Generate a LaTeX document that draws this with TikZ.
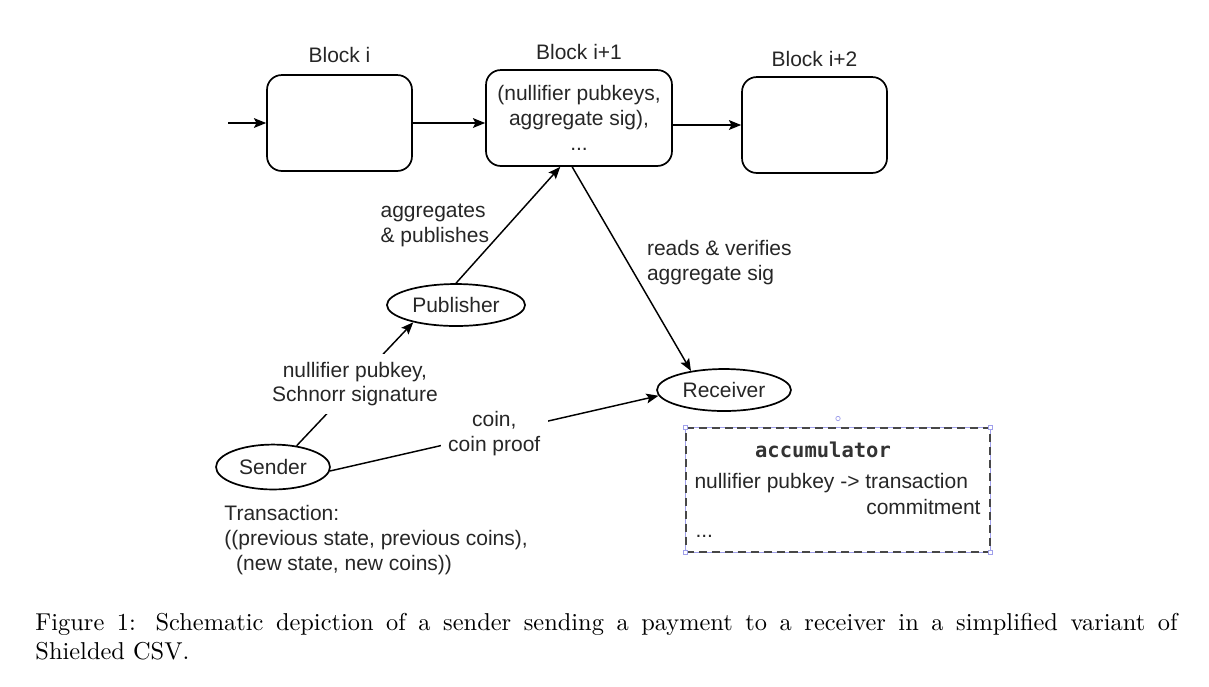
\documentclass[tikz,border=0pt]{standalone}
\usepackage{fontspec}
\usepackage{xcolor}
\usepackage{tikz}
\usetikzlibrary{arrows.meta,shapes.geometric,positioning}
\newfontfamily\diagfont{Liberation Sans}
\newfontfamily\accfont{DejaVu Sans Mono}
\newcommand{\dfont}{\diagfont\fontsize{8.6pt}{10.2pt}\selectfont}

\begin{document}
\begin{tikzpicture}[x=0.4098pt, y=-0.4098pt,
  blockbox/.style={draw, rounded corners=6pt, line width=0.7pt, minimum height=39.3pt,
    inner sep=0pt, font=\dfont, text=black!85, align=center},
  actor/.style={draw, ellipse, line width=0.7pt, inner sep=0pt, font=\dfont, text=black!85},
  flow/.style={-{Stealth[length=5pt, width=4pt, inset=1pt]}, line width=0.6pt},
  txt/.style={font=\dfont, text=black!85, inner sep=0pt, align=left},
  edgelbl/.style={txt, fill=white, align=center, inner sep=3pt},
  accbox/.style={draw=black!72, dash pattern=on 3.3pt off 2pt, line width=1pt,
    minimum width=124.6pt, minimum height=50.8pt, inner sep=0pt},
  handle/.style={draw=selcolor, fill=white, line width=0.3pt, minimum size=1.6pt, inner sep=0pt}]

  % Colours
  \definecolor{selcolor}{RGB}{160,160,235}   % selection outline left in the drawing

  \useasboundingbox (0,0) rectangle (1209,686);

  % The chain of blocks
  \node[blockbox, minimum width=59.4pt] (blk1) at (339.5,123) {};
  \node[blockbox, minimum width=76.2pt] (blk2) at (579,118)
    {(nullifier pubkeys,\\aggregate sig),\\...};
  \node[blockbox, minimum width=59.4pt] (blk3) at (814.5,125) {};

  \node[txt, above=4.5pt of blk1] (blk1lbl) {Block i};
  \node[txt, above=3.7pt of blk2] (blk2lbl) {Block i+1};
  \node[txt, above=3.7pt of blk3] (blk3lbl) {Block i+2};

  \coordinate (entry) at (228,123);
  \draw[flow] (entry) -- (blk1.west);
  \draw[flow] (blk1.east) -- (blk1.east -| blk2.west);
  \draw[flow] (blk2.east |- blk3.west) -- (blk3.west);

  % Parties
  \node[actor, minimum width=56.6pt, minimum height=17.2pt] (pub) at (456,305) {Publisher};
  \node[actor, minimum width=54.9pt, minimum height=17.2pt] (rcv) at (724,390) {Receiver};
  \node[actor, minimum width=46.7pt, minimum height=18.4pt] (sender) at (273,467) {Sender};

  % Messages
  \draw[flow] (pub.north) -- node[txt, midway, left=7.5pt] (publbl) {aggregates\\\& publishes} (blk2.249);
  \draw[flow] (blk2.262) -- node[txt, pos=0.47, right=7.5pt] (readlbl) {reads \& verifies\\aggregate sig} (rcv.150);
  \draw[flow] (sender.42) -- node[edgelbl] (siglbl) {nullifier pubkey,\\Schnorr signature} (pub.202);
  \draw[flow] (sender.-4) -- node[edgelbl] (coinlbl) {coin,\\coin proof} (rcv.185);

  % Transaction of the sender
  \node[txt, anchor=west] (txn) at (224,540)
    {Transaction:\\((previous state, previous coins),\\\hspace*{4.8pt}(new state, new coins))};

  % Accumulator of the receiver
  \node[minimum width=124.6pt, minimum height=50.8pt, inner sep=0pt] (acc) at (838,490) {};
  \draw[selcolor, line width=0.3pt] (acc.south west) rectangle (acc.north east);
  \node[accbox] (accframe) at (acc) {};
  \foreach \c in {north west, north east, south west, south east}
    \node[handle] at (acc.\c) {};
  \node[draw=selcolor, circle, line width=0.3pt, minimum size=1.8pt, inner sep=0pt] (rot)
    at ([yshift=3.7pt]acc.north) {};

  \node[txt, text=black!80, font=\accfont\bfseries\fontsize{8.4pt}{10pt}\selectfont] (acclbl) at (823,450) {accumulator};
  \node[txt, anchor=west] (accmap) at (694,483) {nullifier pubkey -> transaction};
  \node[txt, anchor=east] (acccom) at (981,507) {commitment};
  \node[txt, anchor=west] (accdots) at (695,536) {...};

  % Caption
  \node[anchor=north west, inner sep=0pt, text width=468pt, align=justify] (caption) at (35,613)
    {Figure 1: Schematic depiction of a sender sending a payment to a receiver in a simplified variant of\linebreak Shielded CSV.};

\end{tikzpicture}
\end{document}
